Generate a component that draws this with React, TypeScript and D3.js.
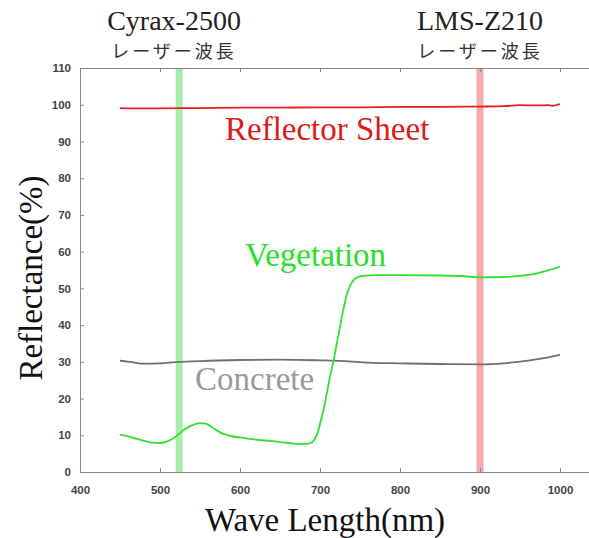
import React, { useRef, useEffect } from "react";
import * as d3 from "d3";

// wavelength (nm) / reflectance (%)
const REFLECTOR_NM = [450, 470, 500, 550, 600, 650, 700, 750, 800, 850, 900, 930, 950, 970, 985, 990, 1000];
const REFLECTOR_PCT = [99.1, 99.0, 99.0, 99.1, 99.2, 99.2, 99.3, 99.3, 99.4, 99.4, 99.5, 99.6, 99.9, 99.8, 99.9, 99.7, 100.2];

const VEGETATION_NM = [
  450, 460, 470, 480, 490, 500, 510, 520, 530, 540, 550, 557, 565, 575, 585, 600, 620, 640, 660, 675, 685,
  690, 694, 698, 701, 705, 709, 713, 717, 721, 725, 729, 734, 739, 745, 754, 770, 800, 850, 880, 900, 930,
  950, 970, 985, 1000,
];
const VEGETATION_PCT = [
  10.2, 9.7, 9.1, 8.5, 8.0, 7.9, 8.4, 9.7, 11.5, 12.7, 13.3, 13.2, 12.2, 10.8, 10.0, 9.4, 8.8, 8.4, 7.9, 7.6, 7.7,
  8.1, 9.2, 11.3, 14, 17.5, 22, 26.5, 30.4, 35, 39.5, 44, 48.7, 51.3, 52.8, 53.4, 53.6, 53.6, 53.5, 53.3, 53.0, 53.1,
  53.4, 54.0, 54.9, 55.9,
];

const CONCRETE_NM = [450, 465, 480, 500, 520, 550, 600, 650, 700, 730, 760, 800, 850, 900, 930, 960, 980, 1000];
const CONCRETE_PCT = [30.3, 29.9, 29.5, 29.6, 29.9, 30.2, 30.5, 30.6, 30.4, 30.2, 29.8, 29.6, 29.4, 29.3, 29.6, 30.3, 31.0, 31.9];

const X_TICKS = [400, 500, 600, 700, 800, 900, 1000];
const Y_TICKS = [0, 10, 20, 30, 40, 50, 60, 70, 80, 90, 100, 110];

// laser wavelengths of the two scanners
const LASER_NAMES = ["Cyrax-2500", "LMS-Z210"];
const LASER_NM = [524, 900];
const LASER_SUB = "レーザー波長";

const App = () => {
  const svgRef = useRef<SVGSVGElement>(null);

  useEffect(() => {
    document.body.style.margin = "0";
    const svg = d3.select(svgRef.current);
    svg.selectAll("*").remove();

    const width = 589;
    const height = 538;
    const left = 80;
    const right = 600;
    const top = 68;
    const bottom = 472;

    const x = d3.scaleLinear().domain([400, 1050]).range([left, right]);
    const y = d3.scaleLinear().domain([0, 110]).range([bottom, top]);

    svg.attr("width", width).attr("height", height);

    // laser bands
    const bandColors = ["#a8eea8", "#f5a8a8"];
    svg
      .selectAll(".band")
      .data(LASER_NM)
      .enter()
      .append("rect")
      .attr("x", (d) => x(d) - 3.5)
      .attr("y", top)
      .attr("width", 7)
      .attr("height", bottom - top)
      .attr("fill", (d, i) => bandColors[i]);

    // axes (ticks point inwards)
    const axisColor = "#888";
    const gy = svg
      .append("g")
      .attr("transform", `translate(${left},0)`)
      .call(d3.axisLeft(y).tickValues(Y_TICKS).tickSize(-4).tickPadding(9).tickSizeOuter(0));
    const gx = svg
      .append("g")
      .attr("transform", `translate(0,${bottom})`)
      .call(
        d3
          .axisBottom(x)
          .tickValues(X_TICKS)
          .tickFormat(d3.format("d"))
          .tickSize(-4)
          .tickPadding(14)
          .tickSizeOuter(0)
      );
    const gt = svg
      .append("g")
      .attr("transform", `translate(0,${top})`)
      .call(d3.axisTop(x).tickValues(X_TICKS).tickSize(-4).tickFormat(() => "").tickSizeOuter(0));

    [gy, gx, gt].forEach((g) => {
      g.select(".domain").attr("stroke", axisColor);
      g.selectAll(".tick line").attr("stroke", axisColor);
      g.selectAll(".tick text")
        .attr("fill", "#444")
        .attr("font-family", "Liberation Sans, Arial, sans-serif")
        .attr("font-weight", "bold")
        .attr("font-size", 11.5);
    });

    // spectra
    const line = d3
      .line<[number, number]>()
      .x((d) => x(d[0]))
      .y((d) => y(d[1]))
      .curve(d3.curveMonotoneX);

    const series = [
      { nm: CONCRETE_NM, pct: CONCRETE_PCT, color: "#707070" },
      { nm: REFLECTOR_NM, pct: REFLECTOR_PCT, color: "#e82020" },
      { nm: VEGETATION_NM, pct: VEGETATION_PCT, color: "#30e030" },
    ];
    series.forEach((s) => {
      svg
        .append("path")
        .datum(s.nm.map((n, i) => [n, s.pct[i]] as [number, number]))
        .attr("fill", "none")
        .attr("stroke", s.color)
        .attr("stroke-width", 1.8)
        .attr("d", line);
    });

    const serif = "Liberation Serif, Times New Roman, serif";

    // series names
    const names = [
      { text: "Reflector Sheet", x: 225, y: 140, color: "#e01818" },
      { text: "Vegetation", x: 245, y: 266, color: "#28e028" },
      { text: "Concrete", x: 195, y: 390, color: "#999" },
    ];
    svg
      .selectAll(".name")
      .data(names)
      .enter()
      .append("text")
      .attr("x", (d) => d.x)
      .attr("y", (d) => d.y)
      .attr("fill", (d) => d.color)
      .attr("font-family", serif)
      .attr("font-size", 33)
      .text((d) => d.text);

    // laser labels above the plot
    const lasers = svg
      .selectAll(".laser")
      .data(LASER_NAMES)
      .enter()
      .append("g")
      .attr("transform", (d, i) => `translate(${i === 0 ? 174 : x(LASER_NM[i])},0)`);
    lasers
      .append("text")
      .attr("y", 30)
      .attr("text-anchor", "middle")
      .attr("fill", "#222")
      .attr("font-family", serif)
      .attr("font-size", 28)
      .text((d) => d);
    lasers
      .append("text")
      .attr("y", 58)
      .attr("text-anchor", "middle")
      .attr("fill", "#333")
      .attr("font-family", "Noto Sans CJK JP, sans-serif")
      .attr("font-size", 18)
      .attr("letter-spacing", 3)
      .text(LASER_SUB);

    // axis titles
    svg
      .append("text")
      .attr("transform", `translate(42,${(top + bottom) / 2 + 8}) rotate(-90)`)
      .attr("text-anchor", "middle")
      .attr("fill", "#111")
      .attr("font-family", serif)
      .attr("font-size", 33)
      .text("Reflectance(%)");
    svg
      .append("text")
      .attr("x", 325)
      .attr("y", 531)
      .attr("text-anchor", "middle")
      .attr("fill", "#111")
      .attr("font-family", serif)
      .attr("font-size", 33)
      .text("Wave Length(nm)");
  }, []);

  return <svg ref={svgRef} style={{ display: "block" }}></svg>;
};

export default App;
